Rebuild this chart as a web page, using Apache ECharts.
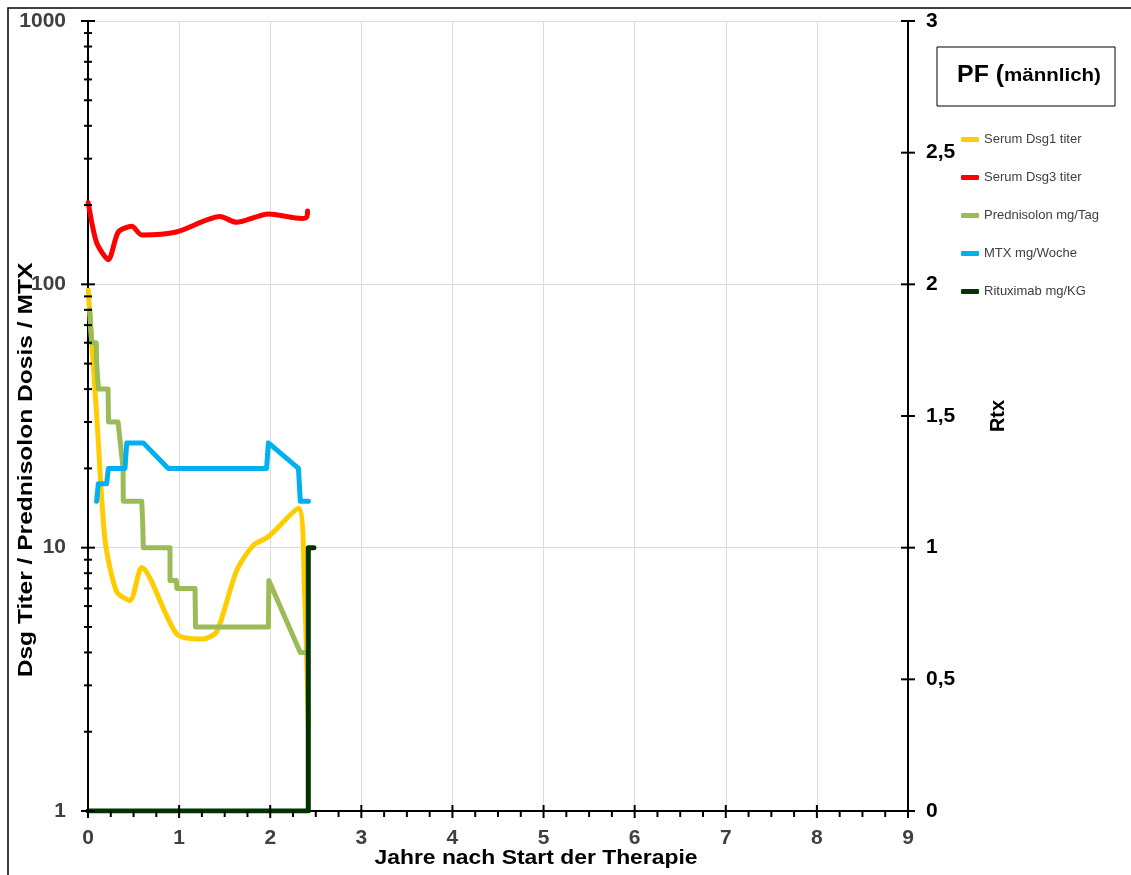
<!DOCTYPE html>
<html>
<head>
<meta charset="utf-8">
<script src="https://cdn.jsdelivr.net/npm/echarts@6/dist/echarts.min.js"></script>
<style>
html,body{margin:0;padding:0;background:#fff;}
#chart{width:1131px;height:875px;}
</style>
</head>
<body>
<div id="chart"></div>
<script>
// ---- data (years, value) ----
var dsg1 = [[0.003,95],[0.10,30],[0.187,10.7],[0.315,6.8],[0.461,6.3],[0.589,8.4],[0.974,4.7],[1.265,4.5],[1.413,4.8],[1.632,8.2],[1.814,10.2],[1.979,11.0],[2.308,14.1],[2.375,7.0],[2.418,2.1]];
var dsg3 = [[0.003,204],[0.095,144],[0.223,124],[0.333,158],[0.48,166],[0.59,154],[0.97,158],[1.45,181],[1.63,172],[1.98,185],[2.35,178],[2.40,180],[2.41,190]];
var prednisolon = [[0.02,80],[0.04,60],[0.09,60],[0.095,50],[0.11,50],[0.115,40],[0.22,40],[0.225,30],[0.33,30],[0.385,20],[0.387,15],[0.59,15],[0.60,12.5],[0.607,10],[0.90,10],[0.90,7.5],[0.97,7.5],[0.975,7],[1.175,7],[1.18,5],[1.98,5],[1.985,7.5],[2.33,4],[2.40,4]];
var mtx = [[0.095,15],[0.113,17.5],[0.205,17.5],[0.223,20],[0.406,20],[0.425,25],[0.607,25],[0.881,20],[1.96,20],[1.98,25],[2.31,20],[2.33,15],[2.42,15]];
var rituximab = [[0,0],[2.418,0],[2.418,1],[2.48,1]];

var seriesNames = ['Serum Dsg1 titer','Serum Dsg3 titer','Prednisolon mg/Tag','MTX mg/Woche','Rituximab mg/KG'];
var seriesColors = ['#FFCC00','#FF0000','#9BBB59','#00B0F0','#003300'];

// ---- axis tick values ----
var leftMajorTicks = [1,10,100,1000];
var leftMinorTicks = [2,3,4,5,6,7,8,9,20,30,40,50,60,70,80,90,200,300,400,500,600,700,800,900];
var xMajorTicks = [0,1,2,3,4,5,6,7,8,9];
var xMinorTicks = [0.25,0.5,0.75,1.25,1.5,1.75,2.25,2.5,2.75,3.25,3.5,3.75,4.25,4.5,4.75,5.25,5.5,5.75,6.25,6.5,6.75,7.25,7.5,7.75,8.25,8.5,8.75];
var rightTicks = [0,0.5,1,1.5,2,2.5,3];

var FONT = "'Liberation Sans', Arial, sans-serif";

function tickSeries(data, xIdx, yIdx, toPoint, shapeFn) {
  return {
    type: 'custom', xAxisIndex: xIdx, yAxisIndex: yIdx, silent: true, z: 10, clip: false,
    data: data.map(function(v){ return [v]; }),
    renderItem: function(params, api) {
      var p = api.coord(toPoint(api.value(0)));
      return { type: 'line', shape: shapeFn(p), style: { stroke: '#000', lineWidth: 2 } };
    }
  };
}

var chart = echarts.init(document.getElementById('chart'));
var lineSeries = [dsg1, dsg3, prednisolon, mtx, rituximab].map(function(d, i){
  return {
    name: seriesNames[i], type: 'line', data: d,
    yAxisIndex: i === 4 ? 1 : 0,
    smooth: (i < 2) ? 0.25 : false,
    showSymbol: false, symbol: 'none',
    lineStyle: { color: seriesColors[i], width: 5, cap: 'round', join: 'round' },
    itemStyle: { color: seriesColors[i] },
    z: 3 + i
  };
});

var option = {
  animation: false,
  backgroundColor: '#fff',
  textStyle: { fontFamily: FONT },
  grid: { left: 88, right: 223, top: 21, bottom: 64 },
  legend: {
    orient: 'vertical', left: 956, top: 127,
    itemWidth: 18, itemHeight: 5, itemGap: 23,
    icon: 'roundRect',
    data: seriesNames,
    textStyle: { fontSize: 13, color: '#404040', fontFamily: FONT, lineHeight: 15 }
  },
  xAxis: [{
    type: 'value', min: 0, max: 9, interval: 1,
    axisLine: { show: true, onZero: false, lineStyle: { color: '#000', width: 2 } },
    axisTick: { show: false },
    axisLabel: { fontSize: 21, fontWeight: 'bold', color: '#404040', margin: 17, fontFamily: FONT },
    splitLine: { show: true, lineStyle: { color: '#dcdcdc', width: 1 } }
  }],
  yAxis: [{
    type: 'log', logBase: 10, min: 1, max: 1000,
    axisLine: { show: true, lineStyle: { color: '#000', width: 2 } },
    axisTick: { show: false },
    axisLabel: { fontSize: 21, fontWeight: 'bold', color: '#404040', margin: 22, fontFamily: FONT,
      formatter: function(v){ return String(Math.round(v)); } },
    splitLine: { show: true, lineStyle: { color: '#dcdcdc', width: 1 } }
  }, {
    type: 'value', min: 0, max: 3, interval: 0.5, position: 'right',
    axisLine: { show: true, lineStyle: { color: '#000', width: 2 } },
    axisTick: { show: false },
    axisLabel: { fontSize: 21, fontWeight: 'bold', color: '#000', margin: 18, fontFamily: FONT,
      formatter: function(v){ return String(v).replace('.', ','); } },
    splitLine: { show: false }
  }],
  series: lineSeries.concat([
    tickSeries(leftMajorTicks, 0, 0, function(v){ return [0, v]; }, function(p){ return {x1:p[0]-7,y1:p[1],x2:p[0]+7,y2:p[1]}; }),
    tickSeries(leftMinorTicks, 0, 0, function(v){ return [0, v]; }, function(p){ return {x1:p[0]-4,y1:p[1],x2:p[0]+4,y2:p[1]}; }),
    tickSeries(xMajorTicks, 0, 0, function(v){ return [v, 1]; }, function(p){ return {x1:p[0],y1:p[1]-6,x2:p[0],y2:p[1]+7}; }),
    tickSeries(xMinorTicks, 0, 0, function(v){ return [v, 1]; }, function(p){ return {x1:p[0],y1:p[1],x2:p[0],y2:p[1]+6}; }),
    tickSeries(rightTicks, 0, 1, function(v){ return [9, v]; }, function(p){ return {x1:p[0]-7,y1:p[1],x2:p[0]+7,y2:p[1]}; })
  ]),
  graphic: [
    { type: 'rect', x: 8, y: 8, silent: true, z: -1,
      shape: { width: 1300, height: 1000 }, style: { fill: 'none', stroke: '#000', lineWidth: 1.5 } },
    { type: 'rect', x: 937, y: 47, silent: true,
      shape: { width: 178, height: 59 }, style: { fill: '#fff', stroke: '#000', lineWidth: 1 } },
    { type: 'text', silent: true, x: 1029, y: 76, z: 20, scaleX: 1.08,
      style: { text: '{a|PF (}{b|männlich)}', align: 'center', verticalAlign: 'middle',
        rich: { a: { fontSize: 23, fontWeight: 'bold', fontFamily: FONT, fill: '#000' },
                b: { fontSize: 19, fontWeight: 'bold', fontFamily: FONT, fill: '#000' } } } },
    { type: 'text', silent: true, x: 26, y: 470, rotation: Math.PI / 2, scaleX: 1.17,
      style: { text: 'Dsg Titer / Prednisolon Dosis / MTX', align: 'center', verticalAlign: 'middle',
        fontSize: 21, fontWeight: 'bold', fontFamily: FONT, fill: '#000' } },
    { type: 'text', silent: true, x: 998, y: 416, rotation: Math.PI / 2,
      style: { text: 'Rtx', align: 'center', verticalAlign: 'middle',
        fontSize: 20, fontWeight: 'bold', fontFamily: FONT, fill: '#000' } },
    { type: 'text', silent: true, x: 536, y: 858, scaleX: 1.09,
      style: { text: 'Jahre nach Start der Therapie', align: 'center', verticalAlign: 'middle',
        fontSize: 21, fontWeight: 'bold', fontFamily: FONT, fill: '#000' } }
  ]
};
chart.setOption(option);
</script>
</body>
</html>
